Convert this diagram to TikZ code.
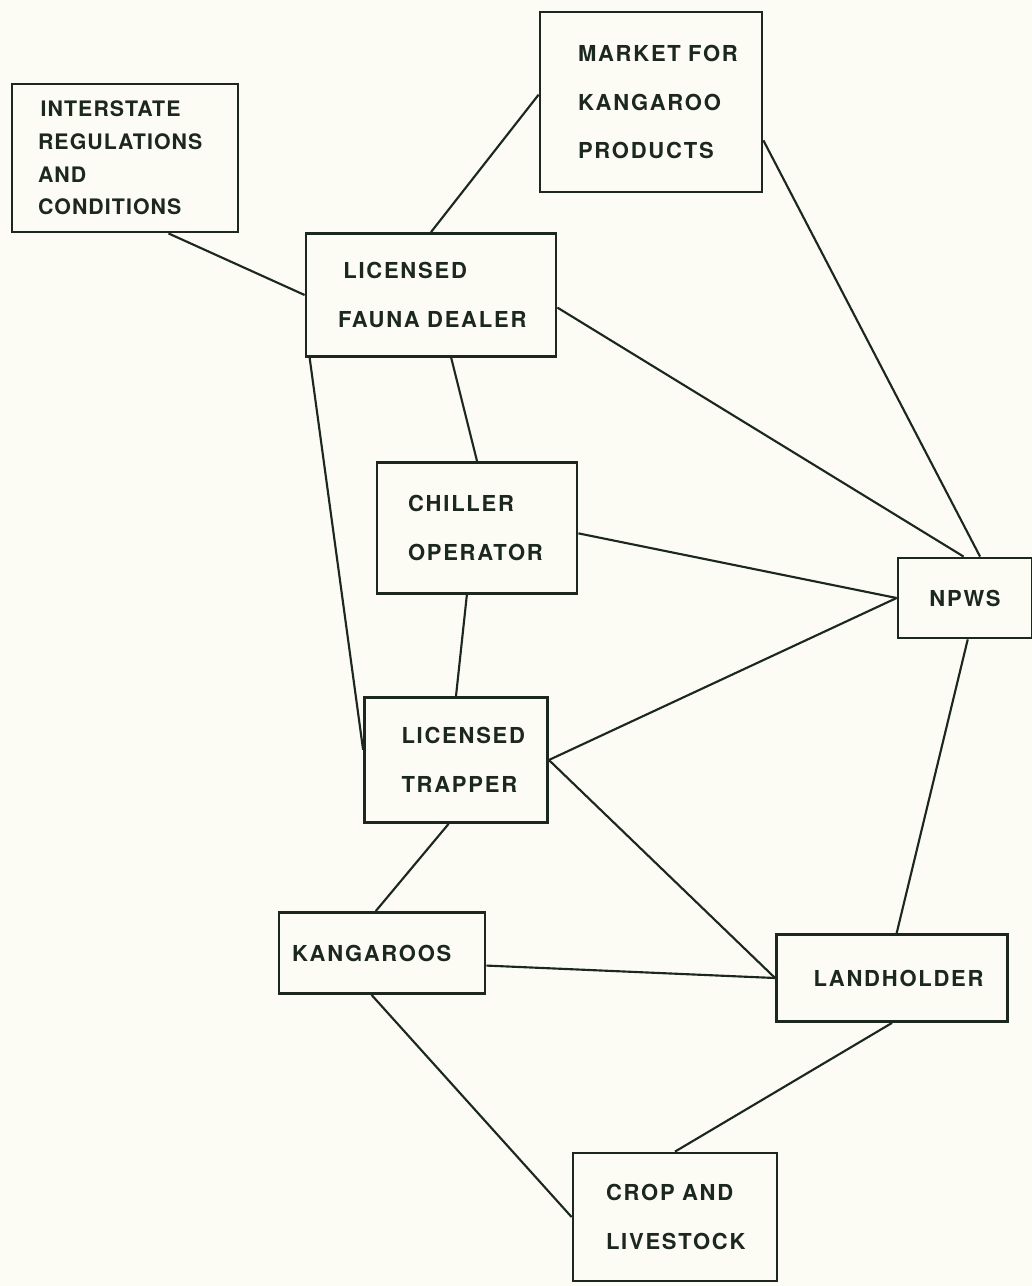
\documentclass[tikz,border=0pt]{standalone}
\usepackage{fontspec}
\setmainfont{TeX Gyre Heros}[LetterSpace=8]
\usepackage{tikz}
\usetikzlibrary{calc}
\definecolor{ink}{RGB}{28,40,30}
\definecolor{paper}{RGB}{252,252,245}

\begin{document}
\begin{tikzpicture}[x=0.75pt,y=0.75pt,yscale=-1,xscale=1,
    unit/.style={draw=ink, line width=2.1pt, text=ink, align=left, inner ysep=0pt,
        font=\fontsize{16.5}{36.5}\selectfont\bfseries},
    link/.style={draw=ink, line width=1.6pt}]
    %page of 1032 x 1286
    \fill[paper] (0,0) rectangle (1032,1286);
    \useasboundingbox (0,0) rectangle (1032,1286);

    % Boxes
    \node [unit, minimum width=169.5pt, minimum height=111pt, inner xsep=19.5pt, text width=130.5pt,
        font=\fontsize{16}{24.5}\selectfont\bfseries\addfontfeatures{LetterSpace=5}] (inter) at (125,158) {\hspace*{2pt}INTERSTATE\\REGULATIONS\\AND\\CONDITIONS};
    \node [unit, minimum width=166.5pt, minimum height=135pt, inner xsep=28.5pt, text width=109.5pt] (market) at (651,102) {MARKET~FOR\\KANGAROO\\PRODUCTS};
    \node [unit, minimum width=187.5pt, minimum height=92.25pt, inner xsep=24pt, text width=139.5pt] (dealer) at (431,295) {\hspace*{4pt}LICENSED\\FAUNA~DEALER};
    \node [unit, minimum width=150pt, minimum height=98.25pt, inner xsep=23.25pt, text width=103.5pt] (chiller) at (477,528) {CHILLER\\OPERATOR};
    \node [unit, minimum width=100.5pt, minimum height=60pt, align=center] (npws) at (965,598) {NPWS};
    \node [unit, minimum width=137.25pt, minimum height=93.75pt, inner xsep=27.75pt, text width=81.75pt] (trapper) at (456,760) {LICENSED\\TRAPPER};
    \node [unit, minimum width=154.5pt, minimum height=60.75pt, inner xsep=9.75pt, text width=135pt] (roos) at (382,953) {KANGAROOS};
    \node [unit, minimum width=173.25pt, minimum height=65.25pt, inner xsep=27.75pt, text width=117.75pt] (land) at (892,978) {LANDHOLDER};
    \node [unit, minimum width=153pt, minimum height=96pt, inner xsep=24.75pt, text width=103.5pt] (crop) at (675,1217) {CROP~AND\\LIVESTOCK};

    % Connectors
    \draw [link] ($(inter.south west)!.69!(inter.south east)$) -- (dealer.west);
    \draw [link] ($(market.north west)!.46!(market.south west)$) -- (dealer.north);
    \draw [link] ($(market.north east)!.71!(market.south east)$) -- ($(npws.north west)!.61!(npws.north east)$);
    \draw [link] ($(dealer.north east)!.6!(dealer.south east)$) -- ($(npws.north west)!.49!(npws.north east)$);
    \draw [link] ($(dealer.south west)!.58!(dealer.south east)$) -- (chiller.north);
    \draw [link] ($(dealer.south west)!.02!(dealer.south east)$) -- ($(trapper.north west)!.42!(trapper.south west)$);
    \draw [link] ($(chiller.north east)!.54!(chiller.south east)$) -- (npws.west);
    \draw [link] ($(chiller.south west)!.45!(chiller.south east)$) -- (trapper.north);
    \draw [link] (trapper.east) -- (npws.west);
    \draw [link] (trapper.east) -- (land.west);
    \draw [link] ($(trapper.south west)!.46!(trapper.south east)$) -- ($(roos.north west)!.47!(roos.north east)$);
    \draw [link] ($(roos.north east)!.65!(roos.south east)$) -- (land.west);
    \draw [link] ($(npws.south west)!.52!(npws.south east)$) -- ($(land.north west)!.52!(land.north east)$);
    \draw [link] ($(roos.south west)!.45!(roos.south east)$) -- (crop.west);
    \draw [link] (land.south) -- (crop.north);
\end{tikzpicture}
\end{document}
